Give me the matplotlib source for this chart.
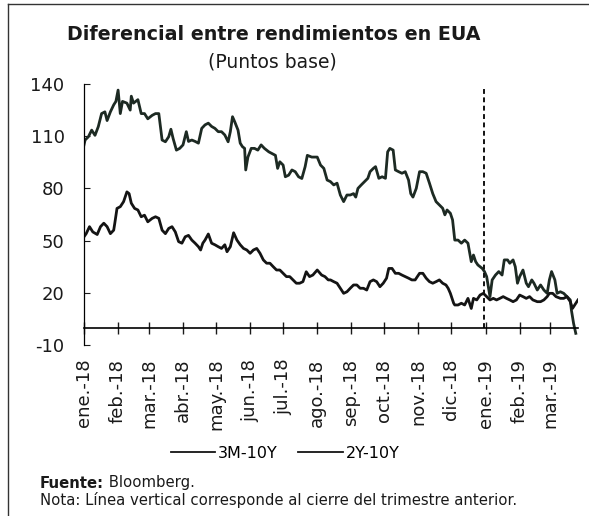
import matplotlib
matplotlib.use("Agg")
import matplotlib.pyplot as plt
from matplotlib.lines import Line2D
import pandas as pd

plt.rcParams['font.family'] = ['DejaVu Sans']
plt.rcParams['axes.unicode_minus'] = False

start = pd.Timestamp("2018-01-01")

# 3M-10Y, days counted from 1 Jan 2018
days_3m = [0, 1, 4, 7, 10, 13, 16, 19, 21, 24, 27, 29, 31, 33, 35, 39, 42, 43, 45, 49,
           52, 55, 58, 62, 65, 68, 71, 74, 77, 79, 81, 84, 87, 90, 93, 95, 98, 101, 104, 107,
           110, 113, 116, 119, 122, 125, 128, 131, 133, 135, 137, 140, 142, 144, 146, 147, 149, 152, 155, 158,
           161, 164, 168, 171, 174, 176, 178, 181, 183, 186, 189, 192, 195, 198, 201, 203, 207, 212, 215, 218,
           221, 224, 227, 230, 233, 236, 239, 242, 245, 247, 249, 252, 255, 258, 260, 263, 265, 268, 271, 274,
           276, 278, 281, 283, 286, 289, 292, 295, 297, 299, 302, 305, 308, 311, 314, 317, 320, 323, 326, 328,
           330, 333, 335, 337, 340, 343, 346, 349, 352, 354, 356, 358, 362, 364, 366, 368, 369, 371, 374, 377,
           380, 382, 385, 387, 390, 392, 394, 396, 399, 402, 404, 407, 409, 412, 415, 418, 421, 423, 425, 428,
           430, 433, 436, 439, 442, 443, 445, 447]
vals_3m = [105, 107.8, 109.7, 113.5, 110.5, 115.5, 123, 124, 119, 124, 128, 130, 136.5, 123, 130, 129, 125, 133, 129, 131,
           123, 123, 120, 122, 123, 123, 107.8, 106.8, 109.7, 114, 108.7, 102, 103, 105, 112.6, 107, 107.8, 107, 106, 114.5,
           116.5, 117.5, 115.6, 114.5, 112.6, 112.6, 110.7, 106.8, 112.6, 121.2, 118.3, 113.5, 106, 104, 103, 90.6, 98, 103, 103, 102,
           105, 103, 101, 100, 99, 91.5, 95.3, 93.4, 86.7, 87.6, 90.6, 89.6, 86.7, 85.7, 92.5, 99, 98, 98, 93.4, 91.5,
           84.8, 83.9, 82, 83, 76.2, 72.4, 76.2, 76.2, 77, 75, 80, 82, 83.9, 85.8, 89.6, 91.5, 92.5, 85.8, 86.7, 85.8,
           101, 103, 102, 90.6, 89.6, 88.7, 89.6, 84.8, 77, 75, 80, 89.6, 89.6, 88.7, 83, 77, 72.4, 70.5, 68.6, 64.8,
           67.6, 65.7, 61.9, 50.3, 50.3, 48.5, 50.3, 48.5, 37.9, 41.7, 37.9, 36, 34, 32.2, 29.3, 21.6, 17.8, 27.4, 30.2, 32.2,
           30.2, 38.9, 38.9, 37, 38.9, 35, 25.5, 29.3, 33.1, 25.5, 23.5, 27.4, 25.5, 21.6, 24.5, 21.6, 19.7, 27.4, 32.2, 27.4,
           19.7, 20.6, 19.7, 17.8, 15.9, 10.1, 2.4, -3.3]

# 2Y-10Y
days_2y = [0, 2, 5, 8, 12, 15, 18, 21, 24, 27, 28, 30, 33, 36, 39, 41, 43, 46, 49, 52,
           55, 58, 62, 65, 68, 71, 74, 77, 80, 83, 86, 89, 92, 95, 98, 101, 104, 106, 108, 110,
           113, 116, 119, 122, 125, 128, 130, 133, 136, 139, 142, 145, 148, 151, 154, 157, 160, 163, 166, 169,
           172, 175, 178, 181, 184, 187, 190, 193, 196, 199, 202, 205, 208, 212, 216, 219, 222, 224, 227, 230,
           233, 236, 239, 242, 245, 248, 251, 254, 257, 260, 263, 266, 269, 272, 275, 277, 280, 283, 286, 289,
           292, 295, 298, 301, 305, 308, 311, 314, 317, 320, 323, 326, 329, 331, 333, 336, 337, 340, 343, 346,
           349, 352, 354, 357, 360, 363, 366, 369, 372, 375, 378, 381, 384, 387, 390, 393, 396, 399, 402, 405,
           408, 412, 415, 418, 421, 423, 426, 429, 433, 436, 439, 442, 444, 446, 449]
vals_2y = [52.2, 54, 58, 55, 53.5, 58, 60, 58, 54, 56, 60, 68.5, 69.5, 72.4, 78, 77, 71.5, 68.5, 67.6, 63.7,
           64.6, 60.8, 62.8, 63.7, 62.8, 56, 54, 57, 58, 55, 49.4, 48.5, 52.2, 53, 50.3, 48.5, 46.5, 44.6, 48.5, 50.3,
           53.8, 48.5, 47.6, 46.5, 45.5, 47.6, 43.6, 46.5, 54.5, 50.3, 47.6, 45.5, 44.6, 42.7, 44.6, 45.5, 42.7, 38.9, 37, 37,
           35, 33.1, 33.1, 31.2, 29.3, 29.3, 27.4, 25.5, 25.5, 26.4, 32.1, 29.3, 30.2, 33.1, 30.2, 29.3, 27.4, 27.4, 26.4, 25.5,
           22.6, 19.7, 20.6, 22.6, 24.5, 24.5, 22.6, 22.6, 21.6, 26.4, 27.4, 26.4, 23.5, 25.5, 28.4, 34, 34, 31.2, 31.2, 30.2,
           29.3, 28.4, 27.4, 27.4, 31.2, 31.2, 28.4, 26.4, 25.5, 26.4, 27.4, 25.5, 24.5, 22.6, 19.7, 14, 13, 13, 14, 13,
           16.8, 11, 16.8, 15.9, 18.7, 19.7, 17.8, 15.9, 16.8, 15.9, 16.8, 17.8, 16.8, 15.9, 14.9, 15.9, 18.7, 17.8, 16.8, 17.8,
           15.9, 14.9, 14.9, 15.9, 17.8, 19.7, 19.7, 17.8, 16.8, 16.8, 17.8, 14.9, 11, 13, 15.9]

months = pd.date_range("2018-01-01", "2019-03-01", freq="MS")
month_labels = ["ene.-18", "feb.-18", "mar.-18", "abr.-18", "may.-18", "jun.-18", "jul.-18",
                "ago.-18", "sep.-18", "oct.-18", "nov.-18", "dic.-18", "ene.-19", "feb.-19", "mar.-19"]
yticks = [140, 110, 80, 50, 20, -10]
quarter_close = pd.Timestamp("2018-12-31")

x_3m = start + pd.to_timedelta(days_3m, unit="D")
x_2y = start + pd.to_timedelta(days_2y, unit="D")

fig = plt.figure(figsize=(5.89, 5.16), dpi=100)
ax = fig.add_axes([0.1426, 0.3314, 0.8387, 0.5058])

ax.plot(x_3m, vals_3m, color="#1d2a23", lw=2.0, label="3M-10Y")
ax.plot(x_2y, vals_2y, color="#141414", lw=2.0, label="2Y-10Y")
ax.vlines(quarter_close, 0, 138, colors="#111111", linestyles=(0, (2.5, 1.8)), lw=1.4)

ax.set_ylim(-10, 140)
ax.set_xlim(start, pd.Timestamp("2019-03-26"))
ax.set_yticks(yticks)
ax.tick_params(axis="y", direction="in", length=4, width=0.8, labelsize=13, pad=14, colors="#1a1a1a")

ax.spines["top"].set_visible(False)
ax.spines["right"].set_visible(False)
ax.spines["left"].set_linewidth(0.9)
ax.spines["bottom"].set_position(("data", 0))
ax.spines["bottom"].set_linewidth(1.2)

ax.set_xticks(months)
ax.set_xticklabels(month_labels, rotation=90, va="top", ha="center")
ax.tick_params(axis="x", direction="inout", length=9, width=1, labelsize=13, pad=18, colors="#1a1a1a")

leg = ax.legend(loc="center", bbox_to_anchor=(285 / 589, 1 - 453 / 516), bbox_transform=fig.transFigure,
                ncol=2, frameon=False, fontsize=11.5, handlelength=2.8, handletextpad=0.15,
                columnspacing=1.3)
for h in leg.get_lines():
    h.set_linewidth(1.3)
    h.set_color("#141414")

fig.text(274 / 589, 1 - 34 / 516, "Diferencial entre rendimientos en EUA", ha="center", va="center",
         fontsize=13.7, fontweight="bold", color="#1a1a1a")
fig.text(272 / 589, 1 - 62 / 516, "(Puntos base)", ha="center", va="center", fontsize=13.5, color="#1a1a1a")

t = fig.text(40 / 589, 1 - 483 / 516, "Fuente:", ha="left", va="center", fontsize=10.7,
             fontweight="bold", color="#1a1a1a")
ax.annotate(" Bloomberg.", xy=(1, 0.5), xycoords=t, ha="left", va="center", fontsize=10.7, color="#1a1a1a",
            annotation_clip=False)
fig.text(40 / 589, 1 - 500 / 516, "Nota: Línea vertical corresponde al cierre del trimestre anterior.",
         ha="left", va="center", fontsize=10.7, color="#1a1a1a")

# marco
fig.add_artist(Line2D([8 / 589, 8 / 589], [0, 1 - 4 / 516], transform=fig.transFigure, color="#333333", lw=1))
fig.add_artist(Line2D([8 / 589, 1], [1 - 4 / 516, 1 - 4 / 516], transform=fig.transFigure, color="#333333", lw=1))

fig.savefig("out.png", dpi=100)
